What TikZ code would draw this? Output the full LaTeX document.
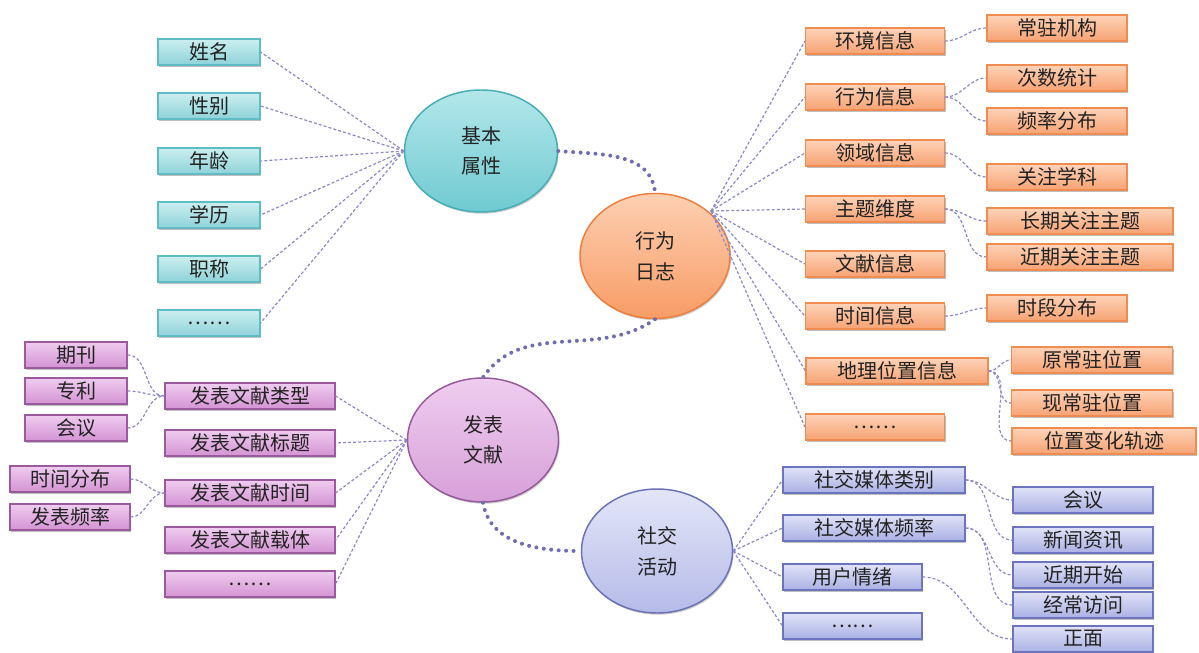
\documentclass[tikz,border=0pt]{standalone}
\usepackage{fontspec}
\setmainfont{Noto Sans CJK SC}
\usetikzlibrary{shapes.geometric,shadows}
\definecolor{txt}{HTML}{222222}
\definecolor{cyt}{HTML}{CBEEF0}
\definecolor{cyb}{HTML}{8ED3D8}
\definecolor{cybd}{HTML}{5FBCC3}
\definecolor{ort}{HTML}{FDD3B8}
\definecolor{orb}{HTML}{F7A273}
\definecolor{orbd}{HTML}{EE8C52}
\definecolor{put}{HTML}{EFCCEF}
\definecolor{pub}{HTML}{D493D4}
\definecolor{pubd}{HTML}{9C5A9E}
\definecolor{blt}{HTML}{E0E3F7}
\definecolor{blb}{HTML}{AAB0E4}
\definecolor{blbd}{HTML}{6C74BE}
\definecolor{ecyt}{HTML}{B3E7EA}
\definecolor{ecyb}{HTML}{6FCAD1}
\definecolor{ecybd}{HTML}{45ADB5}
\definecolor{eort}{HTML}{FDD0B2}
\definecolor{eorb}{HTML}{F89C66}
\definecolor{eorbd}{HTML}{EE7E3E}
\definecolor{eput}{HTML}{EFCDEF}
\definecolor{epub}{HTML}{D7A0D9}
\definecolor{epubd}{HTML}{97589C}
\definecolor{eblt}{HTML}{E3E6F8}
\definecolor{eblb}{HTML}{B5BBE8}
\definecolor{eblbd}{HTML}{6A72B6}
\definecolor{fancol}{HTML}{8A88C8}
\definecolor{dotcol}{HTML}{6E6EB0}
\tikzset{
  x=0.75pt, y=-0.75pt,
  wd/.style={minimum width=#1*0.75pt},
  box/.style={rectangle, draw, line width=0.8pt, minimum height=26*0.75pt,
    inner sep=0pt, font=\fontsize{15}{18}\selectfont, text=txt,
    drop shadow={shadow xshift=0.8pt, shadow yshift=-1.3pt, fill=black, opacity=0.25}},
  cbox/.style={box, draw=cybd, top color=cyt, bottom color=cyb},
  obox/.style={box, draw=orbd, top color=ort, bottom color=orb},
  pbox/.style={box, draw=pubd, top color=put, bottom color=pub},
  bbox/.style={box, draw=blbd, top color=blt, bottom color=blb},
  ell/.style={ellipse, line width=1.1pt, inner sep=0pt, align=center,
    font=\fontsize{15}{23}\selectfont, text=txt,
    drop shadow={shadow xshift=0.8pt, shadow yshift=-1.3pt, fill=black, opacity=0.2}},
  fan/.style={draw=fancol, line width=0.9pt, dash pattern=on 2.2pt off 1.6pt},
  bigdot/.style={draw=dotcol, line width=3pt, line cap=round, dash pattern=on 0pt off 5.6pt},
}
\begin{document}
\begin{tikzpicture}
\useasboundingbox (0,0) rectangle (1199,653);
% ellipses
\node[ell, draw=ecybd, top color=ecyt, bottom color=ecyb, minimum width=153*0.75pt, minimum height=122*0.75pt] (E1) at (481,151) {基本\\属性};
\node[ell, draw=eorbd, top color=eort, bottom color=eorb, minimum width=150*0.75pt, minimum height=125*0.75pt] (E2) at (655,256) {行为\\日志};
\node[ell, draw=epubd, top color=eput, bottom color=epub, minimum width=151*0.75pt, minimum height=124*0.75pt] (E3) at (483,440) {发表\\文献};
\node[ell, draw=eblbd, top color=eblt, bottom color=eblb, minimum width=151*0.75pt, minimum height=124*0.75pt] (E4) at (657,551) {社交\\活动};
% cyan
\node[cbox, wd=102] (c1) at (209,52) {姓名};
\node[cbox, wd=102] (c2) at (209,106) {性别};
\node[cbox, wd=102] (c3) at (209,161) {年龄};
\node[cbox, wd=102] (c4) at (209,215) {学历};
\node[cbox, wd=102] (c5) at (209,269) {职称};
\node[cbox, wd=102] (c6) at (209,323) {……};
% orange mid
\node[obox, wd=139] (o1) at (875,41) {环境信息};
\node[obox, wd=139] (o2) at (875,97) {行为信息};
\node[obox, wd=139] (o3) at (875,153) {领域信息};
\node[obox, wd=139] (o4) at (875,209) {主题维度};
\node[obox, wd=139] (o5) at (875,264) {文献信息};
\node[obox, wd=139] (o6) at (875,316) {时间信息};
\node[obox, wd=182] (o7) at (897,371) {地理位置信息};
\node[obox, wd=139] (o8) at (875,427) {……};
% orange right
\node[obox, wd=140] (r1) at (1057,28) {常驻机构};
\node[obox, wd=140] (r2) at (1057,78) {次数统计};
\node[obox, wd=140] (r3) at (1057,121) {频率分布};
\node[obox, wd=140] (r4) at (1057,177) {关注学科};
\node[obox, wd=186] (r5) at (1080,221) {长期关注主题};
\node[obox, wd=186] (r6) at (1080,257) {近期关注主题};
\node[obox, wd=140] (r7) at (1057,308) {时段分布};
\node[obox, wd=161] (r8) at (1092,360) {原常驻位置};
\node[obox, wd=161] (r9) at (1092,403) {现常驻位置};
\node[obox, wd=184] (r10) at (1104,441) {位置变化轨迹};
% purple mid
\node[pbox, wd=170] (p1) at (250,396) {发表文献类型};
\node[pbox, wd=170] (p2) at (250,443) {发表文献标题};
\node[pbox, wd=170] (p3) at (250,493) {发表文献时间};
\node[pbox, wd=170] (p4) at (250,540) {发表文献载体};
\node[pbox, wd=170] (p5) at (250,584) {……};
% purple left
\node[pbox, wd=102] (q1) at (76,355) {期刊};
\node[pbox, wd=102] (q2) at (76,391) {专利};
\node[pbox, wd=102] (q3) at (76,428) {会议};
\node[pbox, wd=120] (q4) at (70,479) {时间分布};
\node[pbox, wd=120] (q5) at (70,517) {发表频率};
% blue mid
\node[bbox, wd=182] (b1) at (874,480) {社交媒体类别};
\node[bbox, wd=182] (b2) at (874,528) {社交媒体频率};
\node[bbox, wd=139] (b3) at (852.5,577) {用户情绪};
\node[bbox, wd=139] (b4) at (852.5,626) {……};
% blue right
\node[bbox, wd=140] (s1) at (1083,500) {会议};
\node[bbox, wd=140] (s2) at (1083,540) {新闻资讯};
\node[bbox, wd=140] (s3) at (1083,575) {近期开始};
\node[bbox, wd=140] (s4) at (1083,605) {经常访问};
\node[bbox, wd=140] (s5) at (1083,639) {正面};
% fan connectors
\coordinate (fo) at (711,211);
\foreach \n in {c1,c2,c3,c4,c5,c6} \draw[fan] (E1.west) -- (\n.east);
\foreach \n in {o1,o2,o3,o4,o5,o6,o7,o8} \draw[fan] (fo) -- (\n.west);
\foreach \n in {p1,p2,p3,p4,p5} \draw[fan] (E3.west) -- (\n.east);
\foreach \n in {b1,b2,b3,b4} \draw[fan] (E4.east) -- (\n.west);
% curved connectors
\foreach \a/\b in {o1/r1,o2/r2,o2/r3,o3/r4,o4/r5,o4/r6,o6/r7,o7/r8,o7/r9,o7/r10,b1/s1,b1/s2,b2/s3,b2/s4,b3/s5}
  \draw[fan] (\a.east) to[out=0,in=180] (\b.west);
\foreach \a/\b in {q1/p1,q2/p1,q3/p1,q4/p3,q5/p3}
  \draw[fan] (\a.east) to[out=0,in=180] (\b.west);
% main dotted connectors
\draw[bigdot] (E1.east) to[out=-5,in=95] (E2.north);
\draw[bigdot] (E2.south) to[out=215,in=55] (E3.north);
\draw[bigdot] (E3.south) to[out=-80,in=180] (E4.west);
\end{tikzpicture}
\end{document}
